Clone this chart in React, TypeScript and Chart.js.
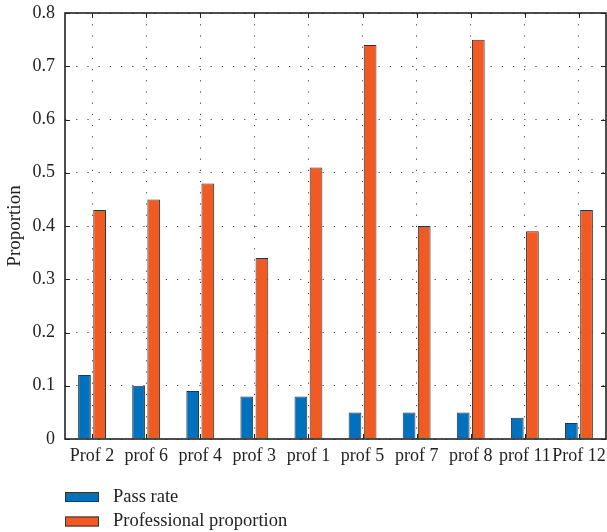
import React, { useEffect, useRef } from "react";
import { Chart, registerables } from "chart.js";

Chart.register(...registerables);

const categories = ["Prof 2", "prof 6", "prof 4", "prof 3", "prof 1", "prof 5", "prof 7", "prof 8", "prof 11", "Prof 12"];
const passRate = [0.12, 0.10, 0.09, 0.08, 0.08, 0.05, 0.05, 0.05, 0.04, 0.03];
const professionalProportion = [0.43, 0.45, 0.48, 0.34, 0.51, 0.74, 0.40, 0.75, 0.39, 0.43];
const seriesNames = ["Pass rate", "Professional proportion"];
const seriesColors = ["#0072BD", "#F15A22"];

const FONT = "'Liberation Serif', 'DejaVu Serif', serif";

const framePlugin = {
  id: "frame",
  afterDatasetsDraw(chart: any) {
    const { ctx, chartArea: a, scales } = chart;
    const x = scales.x;
    const y = scales.y;
    ctx.save();
    ctx.strokeStyle = "#222";
    ctx.lineWidth = 1.6;
    ctx.strokeRect(a.left, a.top, a.right - a.left, a.bottom - a.top);
    ctx.lineWidth = 1;
    const tl = 5;
    ctx.beginPath();
    y.ticks.forEach((_t: any, i: number) => {
      const py = Math.round(y.getPixelForTick(i)) + 0.5;
      ctx.moveTo(a.left, py);
      ctx.lineTo(a.left + tl, py);
      ctx.moveTo(a.right, py);
      ctx.lineTo(a.right - tl, py);
    });
    categories.forEach((_c, i) => {
      const px = Math.round(x.getPixelForValue(i)) + 0.5;
      ctx.moveTo(px, a.bottom);
      ctx.lineTo(px, a.bottom - tl);
      ctx.moveTo(px, a.top);
      ctx.lineTo(px, a.top + tl);
    });
    ctx.stroke();

    // legend
    ctx.font = `18.5px ${FONT}`;
    ctx.textBaseline = "middle";
    ctx.textAlign = "left";
    const rows = [497, 521.5];
    seriesNames.forEach((name, i) => {
      ctx.fillStyle = seriesColors[i];
      ctx.fillRect(65, rows[i] - 5, 34, 10);
      ctx.strokeStyle = "#333";
      ctx.lineWidth = 1;
      ctx.strokeRect(65.5, rows[i] - 4.5, 33, 9);
      ctx.fillStyle = "#222";
      ctx.fillText(name, 113, rows[i]);
    });
    ctx.restore();
  },
};

export default function App() {
  const ref = useRef<HTMLCanvasElement>(null);
  useEffect(() => {
    if (!ref.current) return;
    const chart = new Chart(ref.current, {
      type: "bar",
      data: {
        labels: categories,
        datasets: [
          {
            label: seriesNames[0],
            data: passRate,
            backgroundColor: seriesColors[0],
            borderColor: "#333",
            borderWidth: 1,
          },
          {
            label: seriesNames[1],
            data: professionalProportion,
            backgroundColor: seriesColors[1],
            borderColor: "#333",
            borderWidth: 1,
          },
        ],
      },
      options: {
        animation: false,
        responsive: false,
        maintainAspectRatio: false,
        layout: { padding: { top: 13, right: 1, bottom: 0, left: 0 } },
        datasets: { bar: { categoryPercentage: 0.56, barPercentage: 0.84 } },
        plugins: { legend: { display: false }, tooltip: { enabled: false } },
        scales: {
          x: {
            grid: {
              offset: false,
              color: "#444",
              lineWidth: 1,
              drawTicks: false,
            } as any,
            border: { display: false, dash: [1.2, 10] } as any,
            ticks: {
              color: "#222",
              font: { family: FONT, size: 18 },
              padding: 6,
              maxRotation: 0,
              autoSkip: false,
            },
            afterFit: (s: any) => {
              s.height = 93;
              s.paddingLeft = 0;
              s.paddingRight = 0;
            },
          },
          y: {
            min: 0,
            max: 0.8,
            grid: {
              color: "#444",
              lineWidth: 1,
              drawTicks: false,
            },
            border: { display: false, dash: [1.2, 10] } as any,
            ticks: {
              stepSize: 0.1,
              color: "#222",
              font: { family: FONT, size: 18 },
              padding: 10,
              callback: (v: any) => {
                const n = Math.round(Number(v) * 10) / 10;
                return n === 0 ? "0" : String(n);
              },
            },
            title: {
              display: true,
              text: "Proportion",
              color: "#222",
              font: { family: FONT, size: 19 },
              padding: { top: 4, bottom: 0 },
            },
            afterFit: (s: any) => {
              s.width = 65;
              s.paddingTop = 0;
              s.paddingBottom = 0;
            },
          },
        },
      },
      plugins: [framePlugin],
    });
    return () => chart.destroy();
  }, []);
  return (
    <div style={{ position: "fixed", left: 0, top: 0, width: 607, height: 532, background: "#fff" }}>
      <canvas ref={ref} width={607} height={532} style={{ width: 607, height: 532 }} />
    </div>
  );
}
